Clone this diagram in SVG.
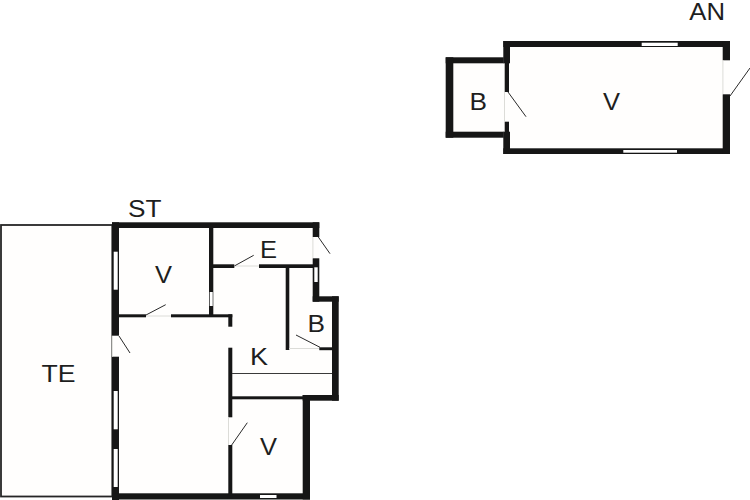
<svg xmlns="http://www.w3.org/2000/svg" width="750" height="500" viewBox="0 0 750 500">
<style>
.floor{fill:#fffefd}
.wall{fill:#161616}
.win{fill:#fff}
.sill{stroke:#dcdcd8;stroke-width:1;fill:none}
.swing{stroke:#2a2a2a;stroke-width:1;fill:none}
.line{stroke:#3a3a3a;stroke-width:1;fill:none}
text{font-family:"Liberation Sans",Arial,sans-serif;font-size:23px;fill:#1e1e1e}
</style>
<rect width="750" height="500" fill="#fff"/>
<g id="annex">
<path class="floor" d="M446 57H503V41H730V154H503V138H446Z"/>
<g id="annex-walls" class="wall">
<rect x="503.3" y="41" width="226.7" height="6"/>
<rect x="503.3" y="148.3" width="226.7" height="5.7"/>
<rect x="722.7" y="41" width="7.3" height="19.3"/>
<rect x="722.7" y="94.3" width="7.3" height="59.7"/>
<rect x="503.3" y="41" width="6.7" height="22.3"/>
<rect x="504.7" y="63" width="4.3" height="29"/>
<rect x="504.7" y="121.7" width="4.3" height="10.5"/>
<rect x="503.3" y="131.7" width="6.7" height="22.3"/>
<rect x="445.7" y="57.3" width="58" height="6"/>
<rect x="445.7" y="131.7" width="58" height="6"/>
<rect x="445.7" y="57.3" width="7.6" height="80.4"/>
</g>
<rect class="win" x="641.7" y="42.7" width="36" height="3.3"/>
<rect class="win" x="623.3" y="150" width="53.7" height="2.7"/>
<path class="sill" d="M504.5 92V122M722.9 60V94"/>
<path class="swing" d="M508 92L526 116.7M730 96L750 68"/>
</g>
<g id="terrace">
<rect x="1" y="225" width="111.3" height="271.5" fill="#fffefd" stroke="#262626" stroke-width="1.8"/>
</g>
<g id="house">
<path class="floor" d="M112 222H319V296H339V401H310V500H112Z"/>
<g id="house-walls" class="wall">
<rect x="112" y="222.3" width="207.3" height="5.7"/>
<rect x="112" y="222.3" width="7" height="113.4"/>
<rect x="112" y="356.7" width="7" height="143.3"/>
<rect x="112" y="493.3" width="198" height="6.2"/>
<rect x="209" y="228" width="4.3" height="89"/>
<rect x="213" y="264.3" width="21.3" height="3.7"/>
<rect x="259" y="264.3" width="54" height="3.7"/>
<rect x="312.7" y="222.3" width="6.6" height="14.7"/>
<rect x="312.7" y="258.3" width="6.6" height="43.4"/>
<rect x="312.7" y="296.3" width="26" height="5.4"/>
<rect x="332" y="296.3" width="6.7" height="104.4"/>
<rect x="302.7" y="395" width="36" height="5.7"/>
<rect x="302.7" y="395" width="7.3" height="104.5"/>
<rect x="232" y="396.3" width="71" height="3"/>
<rect x="119" y="314.3" width="27" height="3"/>
<rect x="171" y="314.3" width="61.3" height="3"/>
<rect x="228.3" y="314.3" width="4" height="12.4"/>
<rect x="228.3" y="347.7" width="4" height="69.6"/>
<rect x="228.3" y="445" width="4" height="50"/>
<rect x="285.7" y="268" width="3.6" height="82"/>
<rect x="319.3" y="347.3" width="13" height="2.9"/>
</g>
<g class="win">
<rect x="113.7" y="251.7" width="4" height="38"/>
<rect x="113.7" y="391" width="4" height="38.3"/>
<rect x="113.7" y="449" width="4" height="38"/>
<rect x="209.7" y="292" width="3" height="14"/>
<rect x="314.3" y="267.3" width="3.4" height="14.7"/>
<rect x="260" y="495" width="16.5" height="3"/>
</g>
<path class="sill" d="M146 316H171M234.3 266H259M289 348.5H319M112.3 336V356.5M312.9 237V258M228.5 417.5V445"/>
<path class="swing" d="M146 315L165.7 304.7M234.3 266L253.7 255.3M318.3 237L330 253.7M296 335L320 347.3M119 336L130 353M231.7 445L247.3 422.7"/>
<path class="line" d="M232 373.5H332"/>
</g>
<g id="labels">
<text x="689.3" y="20" textLength="35.7" lengthAdjust="spacingAndGlyphs">AN</text>
<text x="469.5" y="110" textLength="17.5" lengthAdjust="spacingAndGlyphs">B</text>
<text x="603" y="110" textLength="17" lengthAdjust="spacingAndGlyphs">V</text>
<text x="128" y="216.7" textLength="33.5" lengthAdjust="spacingAndGlyphs">ST</text>
<text x="260" y="258.3" textLength="17" lengthAdjust="spacingAndGlyphs">E</text>
<text x="155" y="282.7" textLength="17" lengthAdjust="spacingAndGlyphs">V</text>
<text x="307.5" y="331.7" textLength="17.5" lengthAdjust="spacingAndGlyphs">B</text>
<text x="250" y="365.3" textLength="18" lengthAdjust="spacingAndGlyphs">K</text>
<text x="260" y="455" textLength="17" lengthAdjust="spacingAndGlyphs">V</text>
<text x="41.5" y="381.7" textLength="34" lengthAdjust="spacingAndGlyphs">TE</text>
</g>
</svg>
